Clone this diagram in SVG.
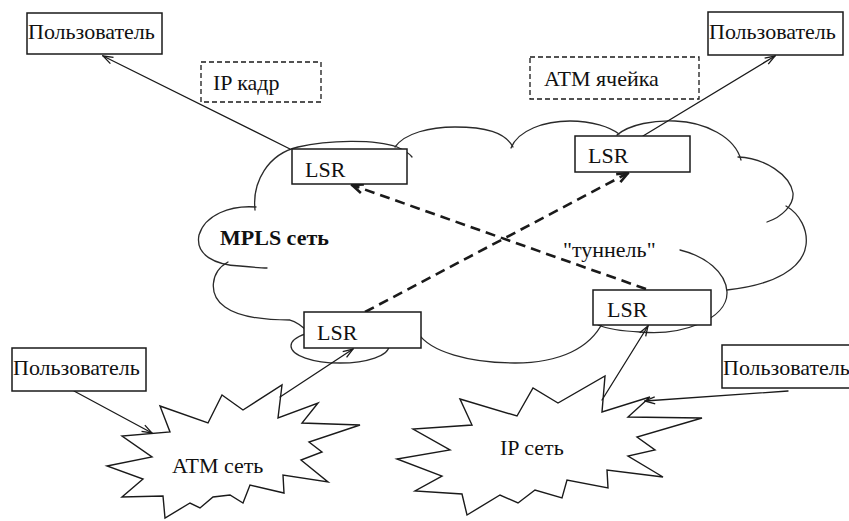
<svg xmlns="http://www.w3.org/2000/svg" width="849" height="521" viewBox="0 0 849 521">
  <style>
    .ln { fill: none; stroke: #1a1a1a; stroke-width: 1.3; stroke-linecap: round; stroke-linejoin: round; }
    .cloud { fill: none; stroke: #2a2a2a; stroke-width: 1.3; stroke-linecap: round; }
    .star { fill: #ffffff; stroke: #1a1a1a; stroke-width: 1.4; stroke-linejoin: miter; }
    .box { fill: #ffffff; stroke: #1a1a1a; stroke-width: 1.5; }
    .dbox { fill: #ffffff; stroke: #1a1a1a; stroke-width: 1.3; stroke-dasharray: 5 3; }
    .tun { fill: none; stroke: #1a1a1a; stroke-width: 2.6; stroke-dasharray: 10 6; }
    text { font-family: 'Liberation Serif', 'DejaVu Serif', 'Noto Serif', serif; font-size: 22px; fill: #111111; }
    .b { font-weight: bold; }
  </style>
  <defs>
    <marker id="arr" viewBox="0 0 12 10" refX="11" refY="5" markerWidth="12" markerHeight="10" markerUnits="userSpaceOnUse" orient="auto">
      <path d="M1,1.5 L11,5 L1,8.5" fill="none" stroke="#1a1a1a" stroke-width="1.3"/>
    </marker>
    <marker id="arrd" viewBox="0 0 14 12" refX="12.5" refY="6" markerWidth="14" markerHeight="12" markerUnits="userSpaceOnUse" orient="auto">
      <path d="M1.5,1.5 L12.5,6 L1.5,10.5" fill="none" stroke="#1a1a1a" stroke-width="2.6"/>
    </marker>
  </defs>
  <rect width="849" height="521" fill="#ffffff"/>

  <!-- MPLS cloud outline, drawn as overlapping bumps -->
  <g id="mpls-cloud">
    <path class="cloud" d="M255,210 C252,182 268,154 298,147 C328,140 375,139 397,147 C404,150 409,153 412,157"/>
    <path class="cloud" d="M395,147 C405,133 430,127 455,127 C485,127 505,132 513,147"/>
    <path class="cloud" d="M511,148 C518,130 545,121 570,121 C592,121 610,127 619,134"/>
    <path class="cloud" d="M617,135 C630,124 655,120 675,121 C705,122 735,137 741,160"/>
    <path class="cloud" d="M738,157 C765,158 790,175 793,193 C794,205 782,217 767,222"/>
    <path class="cloud" d="M786,206 C800,214 808,230 806,245 C803,268 775,285 727,290"/>
    <path class="cloud" d="M680,250 C705,256 726,272 727,292 C728,320 680,336 640,332 C620,331 605,328 598,325"/>
    <path class="cloud" d="M418,333 C430,352 470,363 515,363 C560,363 590,348 603,322"/>
    <ellipse class="cloud" cx="340" cy="346" rx="49" ry="17"/>
    <path class="cloud" d="M228,262 C210,272 208,295 225,307 C240,318 270,320 290,320 C297,322 303,327 307,331"/>
    <path class="cloud" d="M256,207 C230,205 205,215 199,235 C195,255 215,265 240,266 C250,267 260,268 267,268"/>
    <text class="b" x="220" y="245">MPLS сеть</text>
  </g>

  <!-- access networks -->
  <g id="atm-net">
    <polygon class="star" points="160,406 208,423 222,395 243,410 282,385 278,418 318,403 302,423 360,425 309,442 322,452 301,460 328,482 283,475 284,493 250,485 243,503 230,495 213,497 200,508 190,503 165,518 163,496 122,497 143,479 107,466 152,457 122,436 170,432"/>
    <text x="172" y="473">ATM сеть</text>
  </g>
  <g id="ip-net">
    <polygon class="star" points="460,399 517,416 533,388 558,403 605,376 602,412 650,397 628,417 702,418 637,437 655,450 628,456 663,477 607,470 608,488 567,480 562,498 535,490 518,503 500,495 467,515 462,494 415,491 442,476 397,459 450,450 413,429 472,425"/>
    <text x="500" y="455">IP сеть</text>
  </g>

  <!-- connectors -->
  <g id="connectors">
    <line class="ln" x1="290" y1="149" x2="103" y2="56" marker-end="url(#arr)"/>
    <line class="ln" x1="643" y1="136" x2="775" y2="56" marker-end="url(#arr)"/>
    <line class="ln" x1="74" y1="391" x2="152" y2="433" marker-end="url(#arr)"/>
    <line class="ln" x1="280" y1="397" x2="353" y2="349" marker-end="url(#arr)"/>
    <line class="ln" x1="602" y1="400" x2="648" y2="326" marker-end="url(#arr)"/>
    <line class="ln" x1="788" y1="391" x2="645" y2="401" marker-end="url(#arr)"/>
    <line class="tun" x1="365" y1="312" x2="628" y2="173" marker-end="url(#arrd)"/>
    <line class="tun" x1="646" y1="289" x2="352" y2="185" marker-end="url(#arrd)"/>
    <text x="563" y="257">"туннель"</text>
  </g>

  <!-- labels on links -->
  <g id="ip-frame">
    <rect class="dbox" x="201" y="62" width="120" height="40"/>
    <text x="213" y="90">IP кадр</text>
  </g>
  <g id="atm-cell">
    <rect class="dbox" x="530" y="57" width="169" height="42"/>
    <text x="544" y="86">ATM ячейка</text>
  </g>

  <!-- label switching routers -->
  <g id="lsr-top-left">
    <rect class="box" x="292" y="149" width="115" height="35"/>
    <text x="305" y="177">LSR</text>
  </g>
  <g id="lsr-top-right">
    <rect class="box" x="575" y="136" width="115" height="36"/>
    <text x="588" y="163">LSR</text>
  </g>
  <g id="lsr-bottom-left">
    <rect class="box" x="304" y="312" width="117" height="36"/>
    <text x="317" y="340">LSR</text>
  </g>
  <g id="lsr-bottom-right">
    <rect class="box" x="593" y="290" width="118" height="35"/>
    <text x="607" y="317">LSR</text>
  </g>

  <!-- users -->
  <g id="user-top-left">
    <rect class="box" x="27" y="13" width="135" height="41"/>
    <text x="28" y="39">Пользователь</text>
  </g>
  <g id="user-top-right">
    <rect class="box" x="708" y="12" width="135" height="43"/>
    <text x="709" y="39">Пользователь</text>
  </g>
  <g id="user-bottom-left">
    <rect class="box" x="12" y="348" width="134" height="43"/>
    <text x="13" y="375">Пользователь</text>
  </g>
  <g id="user-bottom-right">
    <rect class="box" x="722" y="345" width="140" height="43"/>
    <text x="723" y="375">Пользователь</text>
  </g>
</svg>
